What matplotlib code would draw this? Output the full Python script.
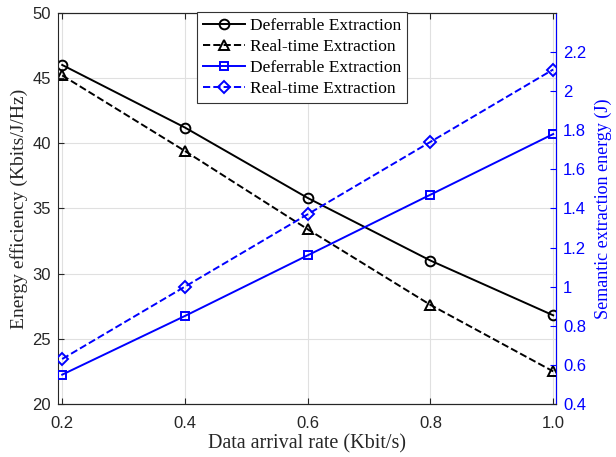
import matplotlib
matplotlib.use('Agg')
import matplotlib.pyplot as plt

# data
rate = [0.2, 0.4, 0.6, 0.8, 1.0]
ee_deferrable = [46.0, 41.2, 35.8, 31.0, 26.8]
ee_realtime = [45.2, 39.4, 33.4, 27.6, 22.5]
energy_deferrable = [0.55, 0.85, 1.16, 1.47, 1.78]
energy_realtime = [0.63, 1.00, 1.37, 1.74, 2.11]

x_ticks = [0.2, 0.4, 0.6, 0.8, 1.0]
x_tick_labels = ['0.2', '0.4', '0.6', '0.8', '1.0']
left_ticks = [20, 25, 30, 35, 40, 45, 50]
right_ticks = [0.4, 0.6, 0.8, 1.0, 1.2, 1.4, 1.6, 1.8, 2.0, 2.2]
right_tick_labels = ['0.4', '0.6', '0.8', '1', '1.2', '1.4', '1.6', '1.8', '2', '2.2']

dark = '#262626'
blue = '#0000ff'
serif = ['Liberation Serif', 'DejaVu Serif']
sans = ['Liberation Sans', 'DejaVu Sans']

fig = plt.figure(figsize=(6.16, 4.57), dpi=100)
ax = fig.add_axes([0.094, 0.116, 0.809, 0.856])
ax2 = ax.twinx()

l1, = ax.plot(rate, ee_deferrable, color='black', linestyle='-', linewidth=1.4,
              marker='o', markersize=7, markerfacecolor='none', markeredgewidth=1.4)
l2, = ax.plot(rate, ee_realtime, color='black', linestyle='--', linewidth=1.4,
              marker='^', markersize=7, markerfacecolor='none', markeredgewidth=1.4)
l3, = ax2.plot(rate, energy_deferrable, color=blue, linestyle='-', linewidth=1.4,
               marker='s', markersize=6, markerfacecolor='none', markeredgewidth=1.4)
l4, = ax2.plot(rate, energy_realtime, color=blue, linestyle='--', linewidth=1.4,
               marker='D', markersize=6, markerfacecolor='none', markeredgewidth=1.4)

ax.set_xlim(0.193, 1.005)
ax.set_ylim(20, 50)
ax2.set_ylim(0.4, 2.4)

ax.set_xticks(x_ticks)
ax.set_xticklabels(x_tick_labels, family=sans, fontsize=12, color=dark)
ax.set_yticks(left_ticks)
ax.set_yticklabels([str(t) for t in left_ticks], family=sans, fontsize=12, color=dark)
ax2.set_yticks(right_ticks)
ax2.set_yticklabels(right_tick_labels, family=sans, fontsize=12, color=blue)

ax.grid(True, color='#e0e0e0', linewidth=0.8)
ax.set_axisbelow(True)
ax.tick_params(axis='both', direction='in', length=4, color=dark, top=True)
ax.tick_params(axis='x', pad=9)
ax.tick_params(axis='y', pad=5)
ax2.tick_params(axis='y', direction='in', length=4, color=blue, pad=5)

for name in ['left', 'top', 'bottom']:
    ax.spines[name].set_color(dark)
    ax.spines[name].set_linewidth(0.8)
ax2.spines['right'].set_color(blue)
ax2.spines['right'].set_linewidth(0.8)
ax2.spines['left'].set_visible(False)
ax2.spines['top'].set_color(dark)
ax2.spines['bottom'].set_color(dark)

ax.set_xlabel('Data arrival rate (Kbit/s)', family=serif, fontsize=14.5, color=dark, labelpad=2)
ax.set_ylabel('Energy efficiency (Kbits/J/Hz)', family=serif, fontsize=14, color=dark, labelpad=3)
ax2.set_ylabel('Semantic extraction energy (J)', family=serif, fontsize=13, color=blue, labelpad=6)

leg = ax2.legend([l1, l2, l3, l4],
                 ['Deferrable Extraction', 'Real-time Extraction',
                  'Deferrable Extraction', 'Real-time Extraction'],
                 loc='upper left', bbox_to_anchor=(197 / 616, 1 - 12 / 457),
                 bbox_transform=fig.transFigure, prop={'family': serif, 'size': 12.5},
                 fancybox=False, framealpha=1, edgecolor='#333333',
                 handlelength=2.4, handletextpad=0.3, borderpad=0.35,
                 labelspacing=0.28, borderaxespad=0)
leg.get_frame().set_linewidth(0.8)

fig.savefig('out.png', dpi=100)
